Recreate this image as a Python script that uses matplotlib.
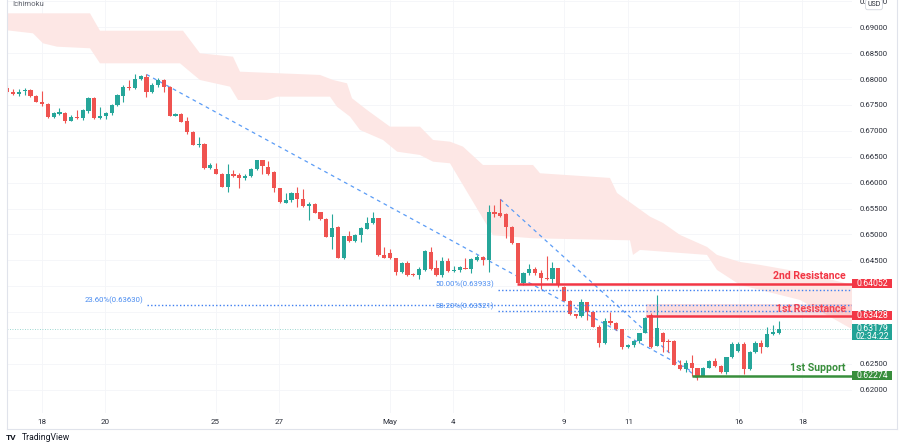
import matplotlib
matplotlib.use("Agg")
import matplotlib.pyplot as plt
import matplotlib.transforms as mtransforms
from matplotlib.patches import Rectangle
from matplotlib.lines import Line2D
import numpy as np

plt.rcParams['font.family'] = ['Roboto', 'DejaVu Sans']

# ---------------- data (4h candles, AUD/USD) ----------------
opens = [
    0.67823, 0.67757, 0.67707, 0.67771, 0.67790, 0.67674, 0.67564, 0.67526, 0.67263, 0.67333,
    0.67352, 0.67198, 0.67269, 0.67244, 0.67391, 0.67641, 0.67255, 0.67288, 0.67340, 0.67495,
    0.67680, 0.67854, 0.67823, 0.68008, 0.68047, 0.67751, 0.67892, 0.67983, 0.67854, 0.67294,
    0.67327, 0.67192, 0.66985, 0.66734, 0.66748, 0.66279, 0.66265, 0.66169, 0.65924, 0.66163,
    0.66150, 0.66086, 0.66130, 0.66271, 0.66433, 0.66310, 0.66213, 0.65893, 0.65615, 0.65667,
    0.65808, 0.65692, 0.65557, 0.65584, 0.65430, 0.65300, 0.64959, 0.65140, 0.64553, 0.64972,
    0.64882, 0.64997, 0.65113, 0.65229, 0.65314, 0.64606, 0.64650, 0.64542, 0.64283, 0.64445,
    0.64233, 0.64220, 0.64316, 0.64669, 0.64349, 0.64220, 0.64490, 0.64303, 0.64316, 0.64353,
    0.64335, 0.64509, 0.64573, 0.64509, 0.65441, 0.65422, 0.65397, 0.65152, 0.64831, 0.64059,
    0.64264, 0.64335, 0.64264, 0.64156, 0.64137, 0.64349, 0.63994, 0.63724, 0.63461, 0.63428,
    0.63693, 0.63511, 0.63222, 0.62913, 0.63332, 0.63299, 0.63172, 0.62824, 0.62869, 0.62946,
    0.63094, 0.63448, 0.62855, 0.63094, 0.62951, 0.62951, 0.62483, 0.62405, 0.62515, 0.62419,
    0.62276, 0.62430, 0.62566, 0.62469, 0.62342, 0.62631, 0.62753, 0.62888, 0.62405, 0.62739,
    0.62913, 0.62836, 0.63075, 0.63094]
highs = [
    0.67887, 0.67809, 0.67804, 0.67823, 0.67809, 0.67694, 0.67777, 0.67539, 0.67365, 0.67437,
    0.67371, 0.67308, 0.67404, 0.67418, 0.67661, 0.67655, 0.67456, 0.67371, 0.67514, 0.67713,
    0.67887, 0.67983, 0.68099, 0.68080, 0.68099, 0.67919, 0.68016, 0.68002, 0.67867, 0.67346,
    0.67346, 0.67275, 0.66999, 0.66889, 0.66761, 0.66375, 0.66375, 0.66188, 0.66356, 0.66246,
    0.66182, 0.66169, 0.66285, 0.66445, 0.66445, 0.66420, 0.66227, 0.65899, 0.65796, 0.65827,
    0.65912, 0.65874, 0.65634, 0.65603, 0.65441, 0.65314, 0.65397, 0.65165, 0.64972, 0.65069,
    0.65011, 0.65152, 0.65345, 0.65430, 0.65320, 0.64766, 0.64716, 0.64542, 0.64476, 0.64490,
    0.64258, 0.64380, 0.64702, 0.64754, 0.64509, 0.64573, 0.64542, 0.64393, 0.64393, 0.64542,
    0.64542, 0.64606, 0.64580, 0.65571, 0.65571, 0.65681, 0.65410, 0.65165, 0.64837, 0.64283,
    0.64432, 0.64380, 0.64316, 0.64586, 0.64476, 0.64360, 0.64007, 0.63737, 0.63467, 0.63751,
    0.63704, 0.63525, 0.63255, 0.63384, 0.63511, 0.63313, 0.63172, 0.62888, 0.62965, 0.63106,
    0.63415, 0.63480, 0.63834, 0.63125, 0.62979, 0.62965, 0.62579, 0.62579, 0.62676, 0.62419,
    0.62444, 0.62579, 0.62612, 0.62483, 0.62643, 0.62932, 0.62932, 0.62932, 0.62759, 0.62951,
    0.62965, 0.63222, 0.63255, 0.63338]
lows = [
    0.67732, 0.67694, 0.67674, 0.67694, 0.67661, 0.67558, 0.67481, 0.67250, 0.67244, 0.67308,
    0.67159, 0.67182, 0.67225, 0.67211, 0.67340, 0.67230, 0.67230, 0.67236, 0.67308, 0.67481,
    0.67564, 0.67790, 0.67809, 0.67983, 0.67661, 0.67726, 0.67842, 0.67757, 0.67288, 0.67282,
    0.67172, 0.66935, 0.66729, 0.66696, 0.66271, 0.66271, 0.66163, 0.65918, 0.65827, 0.66117,
    0.65893, 0.66053, 0.66117, 0.66246, 0.66169, 0.66150, 0.65816, 0.65609, 0.65603, 0.65634,
    0.65526, 0.65526, 0.65281, 0.65410, 0.65281, 0.64947, 0.64727, 0.64545, 0.64534, 0.64862,
    0.64862, 0.64862, 0.65102, 0.65204, 0.64592, 0.64542, 0.64523, 0.64220, 0.64264, 0.64206,
    0.64200, 0.64137, 0.64303, 0.64316, 0.64206, 0.64187, 0.64283, 0.64283, 0.64283, 0.64330,
    0.64252, 0.64496, 0.64413, 0.64283, 0.65345, 0.65333, 0.64936, 0.64824, 0.64065, 0.64027,
    0.64220, 0.64220, 0.63943, 0.64123, 0.64059, 0.63994, 0.63718, 0.63448, 0.63384, 0.63415,
    0.63351, 0.63216, 0.62836, 0.62888, 0.63255, 0.63158, 0.62786, 0.62811, 0.62836, 0.62901,
    0.63094, 0.62805, 0.62855, 0.62739, 0.62739, 0.62477, 0.62386, 0.62353, 0.62270, 0.62193,
    0.62264, 0.62419, 0.62450, 0.62328, 0.62309, 0.62612, 0.62739, 0.62309, 0.62386, 0.62708,
    0.62708, 0.62836, 0.63062, 0.63081]
closes = [
    0.67757, 0.67707, 0.67757, 0.67784, 0.67674, 0.67564, 0.67526, 0.67263, 0.67340, 0.67360,
    0.67192, 0.67275, 0.67250, 0.67404, 0.67641, 0.67244, 0.67288, 0.67352, 0.67495, 0.67694,
    0.67854, 0.67823, 0.68002, 0.68054, 0.67757, 0.67892, 0.67983, 0.67854, 0.67294, 0.67321,
    0.67178, 0.66985, 0.66734, 0.66748, 0.66279, 0.66348, 0.66169, 0.65924, 0.66169, 0.66136,
    0.66086, 0.66130, 0.66271, 0.66433, 0.66323, 0.66169, 0.65893, 0.65623, 0.65667, 0.65796,
    0.65692, 0.65551, 0.65584, 0.65422, 0.65295, 0.64959, 0.65132, 0.64553, 0.64972, 0.64882,
    0.64997, 0.65121, 0.65229, 0.65314, 0.64606, 0.64553, 0.64542, 0.64283, 0.64445, 0.64220,
    0.64214, 0.64335, 0.64683, 0.64335, 0.64220, 0.64490, 0.64297, 0.64316, 0.64368, 0.64334,
    0.64523, 0.64573, 0.64509, 0.65441, 0.65397, 0.65358, 0.65152, 0.64831, 0.64071, 0.64252,
    0.64335, 0.64264, 0.64156, 0.64137, 0.64349, 0.64027, 0.63724, 0.63461, 0.63428, 0.63693,
    0.63511, 0.63222, 0.62913, 0.63332, 0.63299, 0.63172, 0.62824, 0.62869, 0.62946, 0.63094,
    0.63395, 0.62836, 0.63191, 0.62932, 0.62932, 0.62483, 0.62405, 0.62515, 0.62419, 0.62276,
    0.62430, 0.62566, 0.62469, 0.62342, 0.62631, 0.62888, 0.62888, 0.62405, 0.62739, 0.62913,
    0.62836, 0.63081, 0.63114, 0.63179]

# Ichimoku cloud boundaries (x in candle index)
cloud_top_x = [-0.5, 14.26, 15.98, 30.29, 33.22, 38.91, 40.12, 53.91, 56.16, 58.57, 59.43, 62.02,
               65.98, 71.16, 73.40, 76.33, 78.57, 82.02, 90.64, 91.85, 103.91, 105.12, 110.81,
               113.05, 115.98, 120.64, 122.36, 126.33, 129.78, 136.67, 146.0]
cloud_top_p = [0.69270, 0.69270, 0.68934, 0.68934, 0.68498, 0.68433, 0.68143, 0.68080, 0.67983,
               0.67919, 0.67630, 0.67404, 0.67082, 0.67082, 0.66825, 0.66792, 0.66696, 0.66342,
               0.66342, 0.66182, 0.66092, 0.65802, 0.65345, 0.65223, 0.64992, 0.64760, 0.64606,
               0.64470, 0.64413, 0.64277, 0.64020]
cloud_bot_x = [-0.5, 4.43, 6.16, 8.57, 14.26, 15.98, 29.78, 31.5, 33.22, 38.40, 39.78, 44.78, 46.5,
               55.64, 56.84, 59.09, 60.81, 64.78, 67.22, 71.16, 73.40, 76.33, 83.74, 90.64, 107.36,
               107.88, 109.09, 120.64, 122.36, 126.33, 129.78, 136.67, 146.0]
cloud_bot_p = [0.68948, 0.68884, 0.68691, 0.68626, 0.68595, 0.68305, 0.68305, 0.68143, 0.67983,
               0.67854, 0.67597, 0.67597, 0.67661, 0.67661, 0.67468, 0.67275, 0.67018, 0.66825,
               0.66599, 0.66535, 0.66406, 0.66375, 0.64985, 0.64927, 0.64888, 0.64606, 0.64702,
               0.64606, 0.64316, 0.64027, 0.63930, 0.63737, 0.63150]

# trend lines (candle index, price)
trend1_x = [24.0, 118.2]
trend1_p = [0.68090, 0.62348]
trend2_x = [85.0, 118.9]
trend2_p = [0.65681, 0.62232]

# fibonacci levels
fib_levels = [0.63630, 0.63933, 0.63521]
fib_start = [24.1, 84.6, 84.6]
fib_labels = ["23.60%(0.63630)", "50.00%(0.63933)", "38.20%(0.63521)"]

# support / resistance
res2 = 0.64052
res2_start = 87.8
res1 = 0.63428
res1_start = 110.1
res1_zone_top = 0.63660
sup1 = 0.62274
sup1_start = 118.0
last_price = 0.63179
countdown = "02:34:22"

date_ticks = [5.93, 16.9, 35.9, 46.9, 65.9, 76.8, 96.0, 107.1, 126.1, 137.1]
date_labels = ['18', '20', '25', '27', 'May', '4', '9', '11', '16', '18']
price_ticks = [0.620, 0.625, 0.630, 0.635, 0.640, 0.645, 0.650, 0.655, 0.660,
               0.665, 0.670, 0.675, 0.680, 0.685, 0.690, 0.695]
hidden_ticks = [0.630, 0.640]   # covered by the value boxes

# ---------------- figure ----------------
W, H = 900, 447
fig = plt.figure(figsize=(9, 4.47), dpi=100)
fig.patch.set_facecolor('white')

def fx(px):
    return px / W

def fy(py):
    return 1 - py / H

ax = fig.add_axes([fx(6.7), fy(413), fx(852) - fx(6.7), fy(0) - fy(413)])
ax.set_xlim(-0.103, 145.64)
ax.set_ylim(0.61554, 0.69527)
for s in ax.spines.values():
    s.set_visible(False)

GREEN = '#26a69a'
RED = '#ef5350'
TEXT = '#2a2e39'

# grid
for t in price_ticks:
    ax.axhline(t, color='#f4f5f8', lw=0.6, zorder=0)
for t in date_ticks:
    ax.axvline(t, color='#f4f5f8', lw=0.6, zorder=0)

# cloud
poly_x = list(cloud_top_x) + list(cloud_bot_x[::-1])
poly_y = list(cloud_top_p) + list(cloud_bot_p[::-1])
ax.fill(poly_x, poly_y, color='#fde7e5', lw=0, zorder=1)

# candles
o = np.array(opens); h = np.array(highs); l = np.array(lows); c = np.array(closes)
idx = np.arange(len(o))
cols = np.where(c >= o, GREEN, RED)
ax.vlines(idx, l, h, colors=cols, lw=0.8, zorder=3)
body_bot = np.minimum(o, c)
body_h = np.maximum(np.abs(c - o), 0.00016)
ax.bar(idx, body_h, bottom=body_bot, width=0.7, color=cols, lw=0, zorder=4)

# trend lines
ax.plot(trend1_x, trend1_p, color='#5b9cf6', lw=0.9, ls=(0, (3, 3)), zorder=2)
ax.plot(trend2_x, trend2_p, color='#5b9cf6', lw=0.9, ls=(0, (3, 3)), zorder=2)

# resistance zone
xr = ax.get_xlim()[1]
ax.add_patch(Rectangle((res1_start, res1), xr - res1_start, res1_zone_top - res1,
                       facecolor='#f23645', alpha=0.17, lw=0, zorder=2))

# fib lines
FIB = '#3f7ff0'
for lev, st, lab in zip(fib_levels, fib_start, fib_labels):
    ax.plot([st, xr], [lev, lev], color=FIB, lw=1.0, ls=(0, (1, 1.6)), zorder=5)
    ax.text(st - 0.6, lev + 0.00025, lab, ha='right', va='bottom', fontsize=5.6,
            color='#4a8cf0', zorder=6)

# levels
ax.plot([res2_start, xr], [res2, res2], color='#f23645', lw=1.8, zorder=6, solid_capstyle='butt')
ax.plot([res1_start, xr], [res1, res1], color='#f23645', lw=1.8, zorder=6, solid_capstyle='butt')
ax.plot([sup1_start, xr], [sup1, sup1], color='#388e3c', lw=1.8, zorder=6, solid_capstyle='butt')

# last price line
ax.axhline(last_price, color=GREEN, lw=0.6, ls=(0, (1, 2)), alpha=0.6, zorder=2)

# level annotations
ax.text(144.6, res2 + 0.00150, '2nd Resistance', ha='right', va='center', fontsize=7.6,
        fontweight='bold', color='#f23645', zorder=7)
ax.text(144.6, res1 + 0.00134, '1st Resistance', ha='right', va='center', fontsize=7.6,
        fontweight='bold', color='#f23645', zorder=7, alpha=0.9)
ax.text(144.6, sup1 + 0.00141, '1st Support', ha='right', va='center', fontsize=7.6,
        fontweight='bold', color='#388e3c', zorder=7)

# axes ticks
ax.set_xticks(date_ticks)
ax.set_xticklabels(date_labels)
ax.yaxis.tick_right()
ax.set_yticks(price_ticks)
ax.set_yticklabels(['' if any(abs(t - hh) < 1e-9 for hh in hidden_ticks) else f"{t:.5f}"
                    for t in price_ticks])
ax.tick_params(axis='x', length=0, pad=4.5, labelsize=5.8, labelcolor=TEXT)
ax.tick_params(axis='y', length=0, pad=5.5, labelsize=5.6, labelcolor=TEXT)

# value boxes on price axis
trans = mtransforms.blended_transform_factory(ax.transAxes, ax.transData)
bw = 40 / (852 - 6.7)

def value_box(val, top, bot, color, lines):
    ax.add_patch(Rectangle((1.0, bot), bw, top - bot, transform=trans, facecolor=color,
                           lw=0, clip_on=False, zorder=8))
    for txt, yv in lines:
        ax.text(1.0 + bw / 2, yv, txt, transform=trans, ha='center', va='center',
                fontsize=6.3, color='white', clip_on=False, zorder=9)

value_box(res2, res2 + 0.00090, res2 - 0.00085, '#f23645', [(f"{res2:.5f}", res2)])
value_box(res1, res1 + 0.00090, res1 - 0.00085, '#f23645', [(f"{res1:.5f}", res1)])
value_box(last_price, last_price + 0.00095, last_price - 0.00215, '#22a396',
          [(f"{last_price:.5f}", last_price), (countdown, last_price - 0.00140)])
value_box(sup1, sup1 + 0.00085, sup1 - 0.00085, '#388e3c', [(f"{sup1:.5f}", sup1)])

# frame lines
fig.add_artist(Line2D([fx(6.7), fx(6.7)], [fy(0), fy(429)], color='#e0e3eb', lw=0.8))
fig.add_artist(Line2D([fx(6.7), fx(897)], [fy(429), fy(429)], color='#e0e3eb', lw=0.8))
fig.add_artist(Line2D([fx(897), fx(897)], [fy(0), fy(429)], color='#e0e3eb', lw=0.8))

# header and footer texts
fig.text(fx(12), fy(4), 'Ichimoku', ha='left', va='center', fontsize=5.6, color='#5d606b')
fig.text(fx(874), fy(4.5), 'USD', ha='center', va='center', fontsize=5.0, color=TEXT,
         bbox=dict(boxstyle='round,pad=0.25,rounding_size=0.3', fc='white', ec='#d1d4dc', lw=0.6),
         zorder=10)
fig.text(fx(6), fy(438), 'TV', ha='left', va='center', fontsize=6.0, fontweight='bold',
         color='#131722')
fig.text(fx(22), fy(438), 'TradingView', ha='left', va='center', fontsize=6.2, color='#131722')

fig.savefig('out.png', dpi=100, facecolor='white')
